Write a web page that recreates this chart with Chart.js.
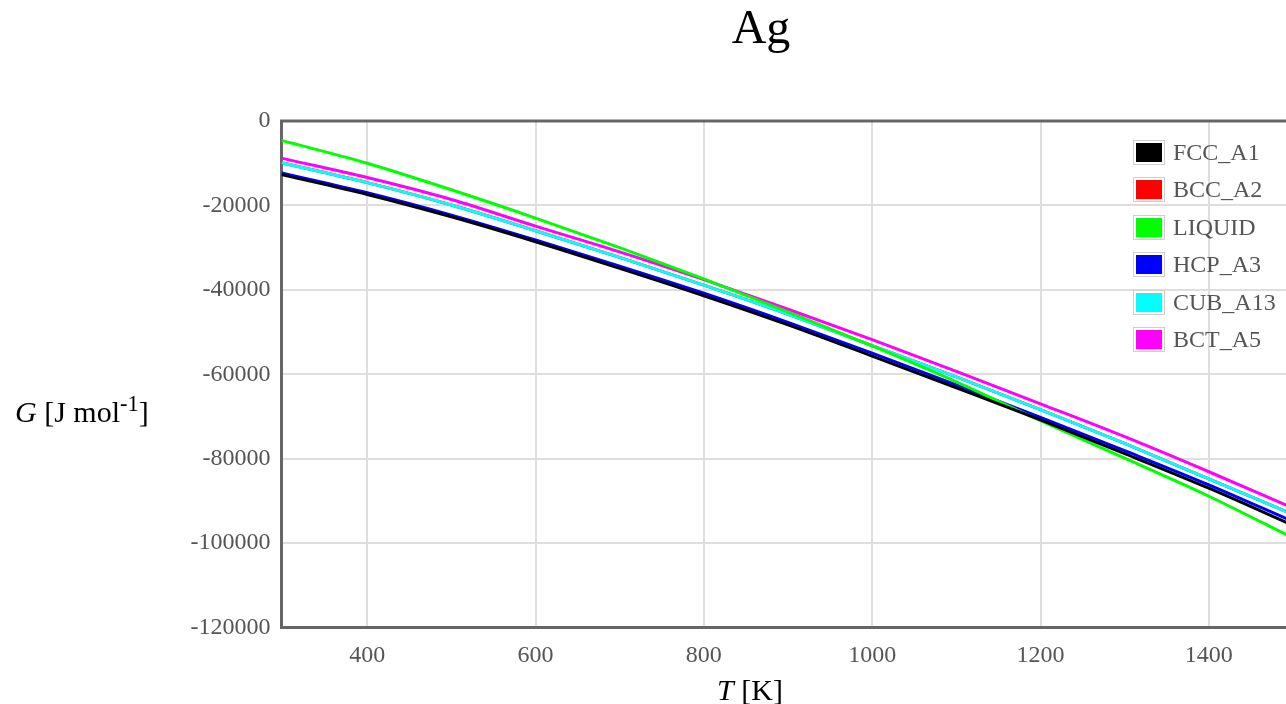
<!DOCTYPE html>
<html>
<head>
<meta charset="utf-8">
<script src="https://cdn.jsdelivr.net/npm/chart.js@4.4.1/dist/chart.umd.min.js"></script>
<style>
  html, body { margin: 0; padding: 0; background: #fff; overflow: hidden; }
  body { width: 1286px; height: 704px; position: relative; font-family: 'Liberation Serif', 'DejaVu Serif', serif; }
  #wrap { position: absolute; left: 0; top: 0; width: 1300px; height: 704px; }
  .lbl { position: absolute; line-height: 1; white-space: nowrap; color: #000; }
  #title { font-size: 48px; left: 0; width: 1522px; text-align: center; top: 3px; }
  #ylab { font-size: 30px; left: 15px; top: 393px; }
  #xlab { font-size: 30px; left: 0; width: 1500px; text-align: center; top: 675px; }
  #legend { position: absolute; left: 1133px; top: 141px; }
  .row { height: 37.4px; display: flex; align-items: flex-start; }
  .box { width: 26px; height: 19px; border: 2px solid #fff; outline: 1.5px solid #cfcfcf; margin: 0 9px 0 1px; flex: none; }
  .row span { font-size: 24px; color: #555; line-height: 23px; margin-top: 0; }
</style>
</head>
<body>
<div id="wrap"><canvas id="chart"></canvas></div>
<div id="title" class="lbl">Ag</div>
<div id="ylab" class="lbl"><i>G</i> [J mol<sup style="font-size:0.75em">-1</sup>]</div>
<div id="xlab" class="lbl"><i>T</i> [K]</div>
<div id="legend"></div>
<script>
// Gibbs energy of the Ag phases
const temps = [298.15, 400, 500, 600, 700, 800, 900, 1000, 1100, 1200, 1300, 1400, 1500];
const phases = ['FCC_A1', 'BCC_A2', 'LIQUID', 'HCP_A3', 'CUB_A13', 'BCT_A5'];
const colors = ['#000000', '#ff0000', '#00ff00', '#0000ff', '#00ffff', '#ff00ff'];

const fcc    = [-12700, -17400, -22700, -28600, -34900, -41400, -48300, -55700, -63200, -70800, -78800, -87000, -95800];
const bcc    = [-9900, -14600, -19900, -26000, -32300, -38900, -45800, -53200, -60600, -68400, -76400, -84800, -93200];
const liquid = [-4600, -10000, -16300, -23000, -30000, -37400, -45200, -53300, -61800, -71000, -79900, -88900, -98800];
const hcp    = [-12300, -17000, -22300, -28200, -34400, -40800, -47700, -55000, -62500, -70200, -78100, -86200, -94900];
const cub    = [-9900, -14600, -19900, -26000, -32300, -38900, -45800, -53200, -60600, -68400, -76400, -84800, -93200];
const bct    = [-8800, -13400, -18600, -24900, -31000, -37600, -44600, -51800, -59300, -67000, -74800, -83100, -91700];

const yTicks = [0, -20000, -40000, -60000, -80000, -100000, -120000];
const xTicks = [400, 600, 800, 1000, 1200, 1400];

const FONT = "'Liberation Serif', 'DejaVu Serif', serif";
const series = [fcc, bcc, liquid, hcp, cub, bct];

// legend as html, built from the names/colours
const legend = document.getElementById('legend');
phases.forEach((name, i) => {
    const row = document.createElement('div');
    row.className = 'row';
    row.innerHTML = '<div class="box" style="background:' + colors[i] + '"></div><span>' + name + '</span>';
    legend.appendChild(row);
});

// top/right edge of the plot frame (axes only draw left/bottom)
const frame = {
    id: 'frame',
    afterDraw(chart) {
        const { ctx, chartArea: a } = chart;
        ctx.save();
        ctx.strokeStyle = '#666666';
        ctx.lineWidth = 3;
        ctx.beginPath();
        ctx.moveTo(a.left - 1.5, a.top);
        ctx.lineTo(a.right, a.top);
        ctx.lineTo(a.right, a.bottom);
        ctx.stroke();
        ctx.restore();
    }
};

new Chart(document.getElementById('chart'), {
    type: 'line',
    data: {
        datasets: phases.map((name, i) => ({
            label: name,
            data: temps.map((t, k) => ({ x: t, y: series[i][k] })),
            borderColor: colors[i],
            backgroundColor: colors[i],
            borderWidth: 3,
            pointRadius: 0,
            cubicInterpolationMode: 'monotone',
            fill: false,
            // BCC_A2 sits hidden underneath the other curves
            order: name === 'BCC_A2' ? 10 : i
        }))
    },
    options: {
        responsive: true,
        maintainAspectRatio: false,
        animation: false,
        layout: { padding: { top: 121, right: 7, left: 0, bottom: 0 } },
        plugins: {
            legend: { display: false },
            title: { display: false },
            tooltip: { enabled: false }
        },
        scales: {
            x: {
                type: 'linear',
                min: 298.15,
                max: 1500,
                afterBuildTicks: s => { s.ticks = xTicks.map(v => ({ value: v })); },
                afterFit: s => { s.height = 76.5; },
                ticks: {
                    padding: 14,
                    maxRotation: 0,
                    color: '#555555',
                    font: { family: FONT, size: 24 },
                    callback: v => String(v)
                },
                grid: { color: '#dedede', lineWidth: 2, drawTicks: false },
                border: { color: '#666666', width: 3 }
            },
            y: {
                min: -120000,
                max: 0,
                afterBuildTicks: s => { s.ticks = yTicks.map(v => ({ value: v })); },
                afterFit: s => { s.width = 281.5; },
                ticks: {
                    padding: 11,
                    color: '#555555',
                    font: { family: FONT, size: 24 },
                    callback: v => String(v)
                },
                grid: { color: '#dedede', lineWidth: 2, drawTicks: false },
                border: { color: '#666666', width: 3 }
            }
        }
    },
    plugins: [frame]
});
</script>
</body>
</html>
